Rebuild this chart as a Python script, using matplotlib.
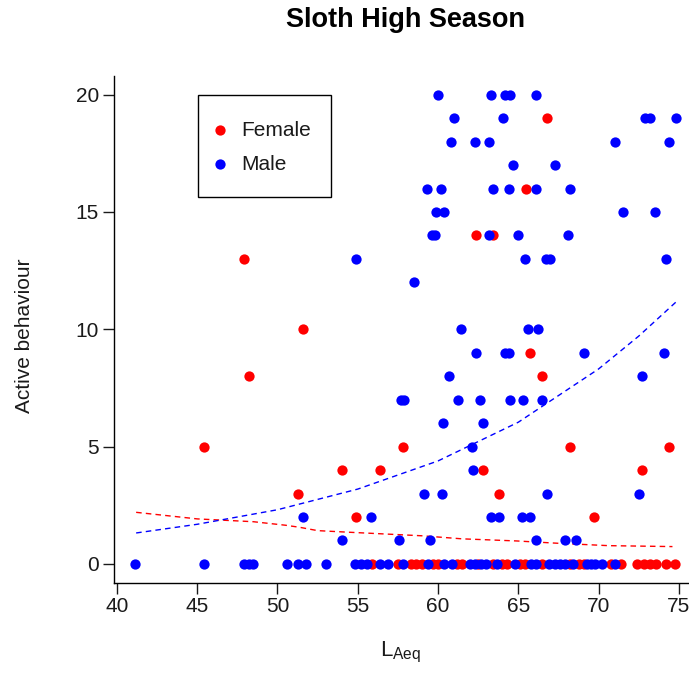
import matplotlib
matplotlib.use("Agg")
import matplotlib.pyplot as plt
from matplotlib.lines import Line2D
from matplotlib.patches import Rectangle

plt.rcParams['font.family'] = ['Liberation Sans', 'DejaVu Sans']

# noise level (LAeq) and active behaviour counts per observation
female_laeq = [66.8, 65.5, 62.35, 63.4, 47.9, 51.6, 65.7, 48.2, 66.5,
               45.45, 57.8, 68.2, 74.4, 54.0, 56.4, 62.8, 72.7, 51.3, 63.8,
               54.9, 69.7,
               55.9, 57.5, 58.3, 58.6, 59.0, 59.7, 60.0, 61.2, 61.5, 62.5,
               63.4, 64.0, 64.3, 65.1, 65.4, 66.45, 68.2, 68.8, 69.1, 70.8,
               71.4, 72.4, 72.8, 73.2, 73.6, 74.2, 74.75]
female_active = [19, 16, 14, 14, 13, 10, 9, 8, 8,
                 5, 5, 5, 5, 4, 4, 4, 4, 3, 3,
                 2, 2,
                 0, 0, 0, 0, 0, 0, 0, 0, 0, 0,
                 0, 0, 0, 0, 0, 0, 0, 0, 0, 0,
                 0, 0, 0, 0, 0, 0, 0]

male_laeq = [60.0, 63.3, 64.2, 64.5, 66.1,
             61.0, 64.05, 72.9, 73.2, 74.8,
             60.8, 62.3, 63.2, 71.0, 74.4,
             64.7, 67.3,
             59.3, 60.2, 63.4, 64.4, 66.1, 68.2,
             59.9, 60.4, 71.5, 73.5,
             59.6, 59.8, 63.2, 65.0, 68.1,
             54.9, 65.4, 66.7, 67.0, 74.2,
             58.5,
             61.4, 65.6, 66.2,
             62.35, 64.2, 64.4, 69.1, 74.1,
             60.7, 72.7,
             57.7, 57.9, 61.25, 62.6, 64.5, 65.3, 66.5,
             60.3, 62.8,
             62.1,
             62.2,
             59.1, 60.25, 66.8, 72.5,
             51.6, 55.85, 63.3, 63.8, 65.25, 65.7,
             54.0, 57.6, 59.5, 66.1, 67.9, 68.6,
             41.15, 45.4, 47.9, 48.2, 48.5, 50.6, 51.3, 51.8, 53.0, 54.8,
             55.2, 55.6, 56.4, 56.9, 57.8, 59.4, 60.4, 60.9, 62.0, 62.3,
             62.7, 63.0, 63.7, 64.8, 65.8, 66.1, 66.9, 67.3, 67.6, 67.9,
             68.4, 69.25, 69.5, 69.8, 70.2, 71.0]
male_active = [20] * 5 + [19] * 5 + [18] * 5 + [17] * 2 + [16] * 6 + \
              [15] * 4 + [14] * 5 + [13] * 5 + [12] + [10] * 3 + [9] * 5 + \
              [8] * 2 + [7] * 7 + [6] * 2 + [5] + [4] + [3] * 4 + [2] * 6 + \
              [1] * 6 + [0] * 36

# fitted model curves
female_fit_x = [41.2, 45, 48.5, 50.5, 51.4, 52.5, 54.5, 59, 61.5, 64.9, 67.5, 70.6, 74.6]
female_fit_y = [2.2, 1.92, 1.8, 1.65, 1.56, 1.42, 1.35, 1.2, 1.07, 0.98, 0.88, 0.78, 0.74]
male_fit_x = [41.2, 45, 50, 55, 60, 65, 70, 72.5, 74.8]
male_fit_y = [1.32, 1.69, 2.31, 3.19, 4.39, 6.04, 8.31, 9.71, 11.15]

xticks = [40, 45, 50, 55, 60, 65, 70, 75]
yticks = [0, 5, 10, 15, 20]
legend_labels = ["Female", "Male"]
red = '#FF0000'
blue = '#0000FF'

W, H = 689, 691
fig = plt.figure(figsize=(W / 100, H / 100), dpi=100)
ax = fig.add_axes([0.1659, 0.1567, 1.0 - 0.1659, 0.8902 - 0.1567])

ax.plot(female_laeq, female_active, 'o', color=red, markersize=7.4,
        markeredgewidth=0, zorder=3)
ax.plot(male_laeq, male_active, 'o', color=blue, markersize=7.4,
        markeredgewidth=0, zorder=3)
ax.plot(female_fit_x, female_fit_y, color=red, lw=1, dashes=(4, 3), zorder=2)
ax.plot(male_fit_x, male_fit_y, color=blue, lw=1, dashes=(4, 3), zorder=2)

ax.set_xlim(39.84, 75.63)
ax.set_ylim(-0.8, 20.8)
ax.set_xticks(xticks)
ax.set_yticks(yticks)
ax.tick_params(axis='both', length=8, width=1, labelsize=15, colors='#1a1a1a')
ax.tick_params(axis='x', pad=2)
ax.tick_params(axis='y', pad=3)
for s in ['top', 'right']:
    ax.spines[s].set_visible(False)
for s in ['left', 'bottom']:
    ax.spines[s].set_linewidth(1)

ax.set_ylabel("Active behaviour", fontsize=15, va='center', color='#1a1a1a')
ax.yaxis.set_label_coords(25 / W, 1 - 336 / H, transform=fig.transFigure)
ax.set_xlabel(r"$\mathregular{L_{Aeq}}$", fontsize=16, va='center', color='#1a1a1a')
ax.xaxis.set_label_coords(401 / W, 1 - 652 / H, transform=fig.transFigure)

fig.text(406 / W, 1 - 20 / H, "Sloth High Season", ha='center', va='center',
         fontsize=19.5, fontweight='bold')

# legend box drawn in figure pixels
box = Rectangle((198 / W, 1 - 197 / H), 133 / W, 102 / H, transform=fig.transFigure,
                fill=False, edgecolor='black', lw=1)
fig.patches.append(box)
for label, col, py in zip(legend_labels, [red, blue], [130, 164]):
    fig.add_artist(Line2D([220 / W], [1 - py / H], transform=fig.transFigure, ls='none',
                          marker='o', color=col, markersize=7.4, markeredgewidth=0))
    fig.text(241 / W, 1 - py / H, label, ha='left', va='center', fontsize=15,
             color='#1a1a1a')

fig.savefig("out.png", dpi=100)
